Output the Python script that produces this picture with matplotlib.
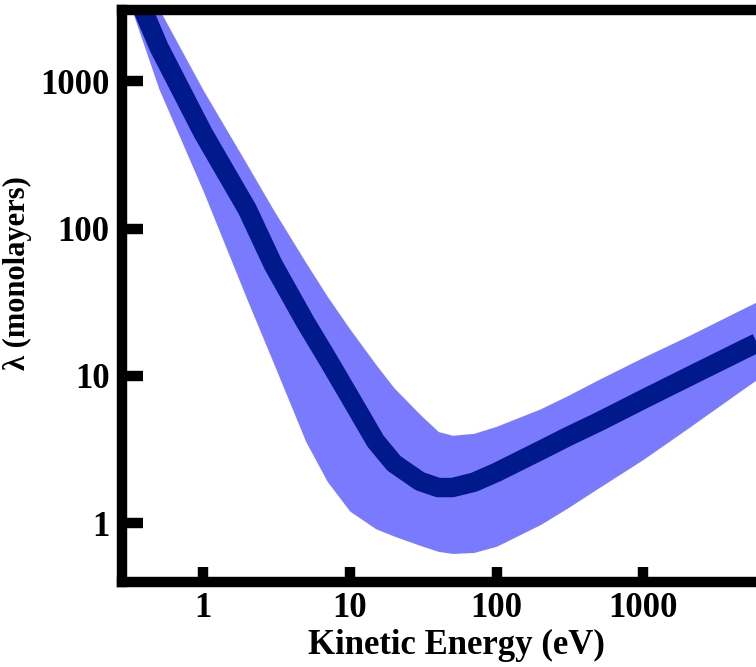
import numpy as np
import matplotlib
matplotlib.use("Agg")
import matplotlib.pyplot as plt

# kinetic energy (eV) and inelastic mean free path (monolayers)
energy = [0.3, 0.5, 1, 2, 3, 5, 7, 10, 15, 20, 30, 40, 50, 70, 100,
          200, 300, 500, 1000, 2000, 5000, 10000]
lam_mid = [5600, 1700, 444, 135, 57, 23, 13.2, 7.2, 3.6, 2.55, 1.93, 1.75, 1.75, 1.9, 2.22,
           3.13, 3.84, 4.9, 6.95, 9.8, 15.4, 21.5]
lam_upper = [7200, 3100, 870, 270, 135, 59, 34.8, 20.8, 12.0, 8.3, 5.5, 4.2, 3.96, 4.08, 4.56,
             6.0, 7.3, 9.5, 13.4, 18.6, 29.3, 41]
lam_lower = [3900, 884, 180, 32.7, 12.4, 3.6, 1.93, 1.21, 0.92, 0.82, 0.71, 0.646, 0.625, 0.635, 0.70,
             0.985, 1.26, 1.75, 2.72, 4.4, 8.4, 13.5]

xticks = [1, 10, 100, 1000]
yticks = [1, 10, 100, 1000]

dark = "#001a8c"
light = "#7a7aff"

plt.rcParams["font.family"] = ["Liberation Serif", "DejaVu Serif"]
plt.rcParams["font.weight"] = "bold"

fig = plt.figure(figsize=(7.56, 6.67), dpi=100)
# axes runs a bit past the right edge of the figure, as in the original
ax = fig.add_axes([0.1614, 0.1274, 0.8836, 0.8576])

ax.fill_between(energy, lam_lower, lam_upper, color=light, linewidth=0)
ax.plot(energy, lam_mid, color=dark, linewidth=14, solid_capstyle="butt",
        solid_joinstyle="round")

ax.set_xscale("log")
ax.set_yscale("log")
ax.set_xlim(0.28, 10000)
ax.set_ylim(0.40, 3040)

ax.set_xticks(xticks)
ax.set_xticklabels([str(t) for t in xticks])
ax.set_yticks(yticks)
ax.set_yticklabels([str(t) for t in yticks])
ax.minorticks_off()

for s in ["left", "bottom", "top"]:
    ax.spines[s].set_linewidth(7.5)
ax.spines["right"].set_visible(False)

ax.tick_params(axis="x", direction="in", length=11, width=7.5, pad=7,
               labelsize=25, top=False)
ax.tick_params(axis="y", direction="in", length=15, width=7.5, pad=9,
               labelsize=25, right=False)
for lab in ax.get_xticklabels() + ax.get_yticklabels():
    lab.set_fontweight("bold")

ax.set_xlabel("Kinetic Energy (eV)", fontsize=25, fontweight="bold", labelpad=3)
ax.set_ylabel("\u03bb (monolayers)", fontsize=22, fontweight="bold")
ax.yaxis.set_label_coords(-0.135, 0.54)

fig.savefig("out.png", dpi=100)
